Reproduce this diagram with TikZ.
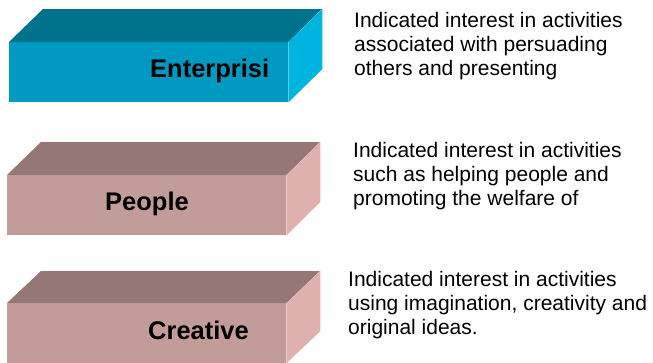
\documentclass[tikz,border=0pt]{standalone}
\usepackage{fontspec}
\setmainfont{Liberation Sans}
\usetikzlibrary{positioning}
\definecolor{entFront}{RGB}{0,153,194}
\definecolor{entTop}{RGB}{0,115,140}
\definecolor{entSide}{RGB}{0,180,224}
\definecolor{rosFront}{RGB}{194,156,153}
\definecolor{rosTop}{RGB}{149,119,117}
\definecolor{rosSide}{RGB}{223,176,174}

\begin{document}
\begin{tikzpicture}[x=1pt,y=1pt,
                  face/.style={inner sep=0pt,minimum width=279pt,minimum height=60pt,anchor=north west},
                  lbl/.style={font=\fontsize{25.5}{30}\selectfont\bfseries,inner sep=0pt,anchor=base west},
                  desc/.style={font=\fontsize{21}{24}\selectfont,align=left,inner sep=0pt,anchor=north west}
                ]
                \useasboundingbox (0,0) rectangle (653,-362);
                % enterprising
                \node[face,fill=entFront] (f1) at (9,-42) {};
                \fill[entTop] (f1.north west) -- ++(34,33) -- ++(279,0) -- (f1.north east) -- cycle;
                \fill[entSide] (f1.north east) -- ++(34,33) -- ++(0,-60) -- (f1.south east) -- cycle;
                \node[lbl] (l1) at (150,-77) {Enterprisi};
                \node[desc] (d1) at (354,-12) {Indicated interest in activities\\associated with persuading\\others and presenting};
                % people
                \node[face,fill=rosFront] (f2) at (7,-175) {};
                \fill[rosTop] (f2.north west) -- ++(34,33) -- ++(279,0) -- (f2.north east) -- cycle;
                \fill[rosSide] (f2.north east) -- ++(34,33) -- ++(0,-60) -- (f2.south east) -- cycle;
                \node[lbl] (l2) at (105,-210) {People};
                \node[desc] (d2) at (353,-142) {Indicated interest in activities\\such as helping people and\\promoting the welfare of};
                % creative
                \node[face,fill=rosFront] (f3) at (7,-303) {};
                \fill[rosTop] (f3.north west) -- ++(34,32) -- ++(279,0) -- (f3.north east) -- cycle;
                \fill[rosSide] (f3.north east) -- ++(34,32) -- ++(0,-60) -- (f3.south east) -- cycle;
                \node[lbl] (l3) at (148,-339) {Creative};
                \node[desc] (d3) at (348,-271) {Indicated interest in activities\\using imagination, creativity and\\original ideas.};
\end{tikzpicture}
\end{document}
